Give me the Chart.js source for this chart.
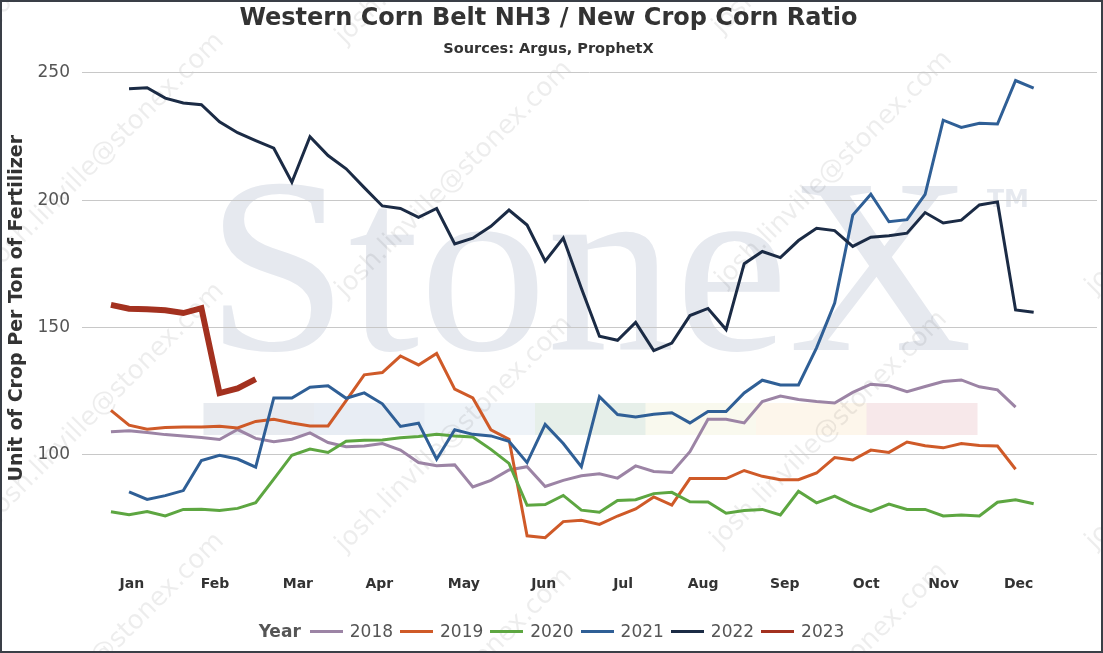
<!DOCTYPE html>
<html>
<head>
<title>Western Corn Belt NH3 / New Crop Corn Ratio</title>
<script src="https://cdn.jsdelivr.net/npm/chart.js@4.4.1/dist/chart.umd.min.js"></script>
<style>
	html, body { margin: 0; padding: 0; background: #fff; }
	#wrap { position: relative; width: 1103px; height: 653px; }
	#frame { position: absolute; left: 0; top: 0; width: 1103px; height: 653px; box-sizing: border-box; border: 2px solid #3a3f47; pointer-events: none; }
	#legend { position: absolute; left: 0; top: 621px; width: 1103px; text-align: center; white-space: nowrap;
		font: 17px 'DejaVu Sans', Verdana, sans-serif; line-height: 20px; color: #555; }
	#legend b { font-weight: bold; margin-right: 2px; }
	#legend .sw { display: inline-block; width: 33px; height: 3px; vertical-align: middle; margin: 0 7px 2px 7px; }
</style>
</head>
<body>
<div id="wrap">
	<canvas id="myChart"></canvas>
	<div id="legend"></div>
	<div id="frame"></div>
</div>
<script>
// x is counted in weeks; month labels sit at these week positions
var monthLabels = ['Jan', 'Feb', 'Mar', 'Apr', 'May', 'Jun', 'Jul', 'Aug', 'Sep', 'Oct', 'Nov', 'Dec'];
var monthWeeks = [1.16, 5.75, 10.33, 14.83, 19.5, 23.92, 28.31, 32.73, 37.24, 41.75, 46.02, 50.17];
var yTicks = [100, 150, 200, 250];

var years = ['2018', '2019', '2020', '2021', '2022', '2023'];
var firstWeek = [0, 0, 0, 1, 1, 0];

var ratio2018 = [108.9, 109.3, 108.6, 107.8, 107.3, 106.7, 105.9, 109.8, 106.3, 105.0,
	106.0, 108.5, 104.7, 103.0, 103.3, 104.3, 101.7, 96.8, 95.6, 95.9,
	87.2, 89.8, 93.9, 95.2, 87.4, 89.8, 91.6, 92.4, 90.7, 95.5,
	93.3, 92.9, 101.1, 113.8, 113.8, 112.4, 120.8, 123.0, 121.6, 120.8,
	120.2, 124.4, 127.6, 127.0, 124.7, 126.7, 128.7, 129.3, 126.6, 125.4, 118.6];
var ratio2019 = [117.3, 111.5, 109.9, 110.6, 110.8, 110.8, 111.1, 110.4, 113.0, 113.8,
	112.4, 111.2, 111.2, 121.2, 131.3, 132.2, 138.7, 135.2, 139.7, 125.7,
	122.2, 109.7, 106.0, 68.0, 67.3, 73.6, 74.1, 72.5, 75.8, 78.6,
	83.3, 80.1, 90.5, 90.5, 90.5, 93.7, 91.4, 90.1, 90.1, 92.7,
	98.8, 97.8, 101.7, 100.8, 104.9, 103.4, 102.6, 104.3, 103.5, 103.3, 94.2];
var ratio2020 = [77.5, 76.3, 77.6, 75.8, 78.4, 78.5, 78.0, 78.8, 81.0, 90.3,
	99.7, 102.1, 100.8, 105.2, 105.6, 105.7, 106.6, 107.1, 107.9, 107.3,
	106.9, 102.0, 96.5, 80.0, 80.3, 83.9, 78.1, 77.3, 81.9, 82.2,
	84.6, 85.1, 81.4, 81.3, 76.9, 78.0, 78.4, 76.2, 85.5, 81.0,
	83.6, 80.2, 77.6, 80.5, 78.4, 78.4, 75.8, 76.2, 75.8, 81.2, 82.2, 80.6];
var ratio2021 = [85.3, 82.3, 83.8, 85.8, 97.6, 99.7, 98.2, 95.0, 122.2, 122.2,
	126.4, 127.0, 122.1, 124.2, 119.9, 111.0, 112.3, 98.1, 109.7, 107.9,
	107.3, 105.2, 96.8, 111.8, 104.3, 95.2, 122.7, 115.7, 114.7, 115.8,
	116.4, 112.4, 116.9, 116.9, 124.2, 129.2, 127.3, 127.3, 141.9, 159.5,
	194.1, 202.3, 191.5, 192.3, 202.3, 231.4, 228.6, 230.2, 229.9, 247.0, 244.0];
var ratio2022 = [243.8, 244.2, 240.1, 238.2, 237.5, 230.8, 226.5, 223.4, 220.4, 207.0,
	224.9, 217.5, 212.3, 204.9, 197.7, 196.7, 193.2, 196.7, 182.8, 185.0,
	189.7, 196.1, 190.2, 176.0, 185.1, 165.3, 146.5, 144.9, 151.9, 140.8,
	143.8, 154.6, 157.4, 149.1, 175.0, 179.8, 177.4, 184.1, 188.9, 188.0,
	181.8, 185.4, 186.0, 187.0, 195.1, 191.0, 192.1, 198.1, 199.3, 156.8, 155.9];
var ratio2023 = [158.8, 157.3, 157.1, 156.7, 155.6, 157.5, 124.1, 126.0, 129.6];

var allRatios = [ratio2018, ratio2019, ratio2020, ratio2021, ratio2022, ratio2023];
var colors = ['#9c84a5', '#cf5a28', '#5da641', '#2f5f96', '#1b2b45', '#a3311f'];
var widths = [3, 3, 3, 3, 3, 6];

Chart.defaults.font.family = "'DejaVu Sans', Verdana, sans-serif";

var datasets = [];
for (var i = 0; i < years.length; i++) {
	var pts = allRatios[i].map(function (v, j) { return { x: firstWeek[i] + j, y: v }; });
	datasets.push({
		label: years[i],
		data: pts,
		borderColor: colors[i],
		backgroundColor: colors[i],
		borderWidth: widths[i],
		pointRadius: 0,
		tension: 0,
		order: years.length - i
	});
}

// faint StoneX logo and e-mail stamps behind the plot
var watermark = {
	id: 'watermark',
	beforeDraw: function (chart) {
		var ctx = chart.ctx;
		ctx.save();
		ctx.fillStyle = '#fff';
		ctx.fillRect(0, 0, chart.width, chart.height);
		var stripe = ['#e8ebf0', '#e8edf4', '#eef3f8', '#e6efe9', '#f9f9ee', '#fdf6eb', '#f7e8ea'];
		for (var s = 0; s < stripe.length; s++) {
			ctx.fillStyle = stripe[s];
			ctx.fillRect(203.5 + s * 110.5, 403, 111, 32);
		}
		ctx.fillStyle = '#e6e9ef';
		ctx.font = "250px 'Liberation Serif', 'DejaVu Serif', serif";
		ctx.textBaseline = 'alphabetic';
		ctx.textAlign = 'left';
		var w = ctx.measureText('StoneX').width;
		ctx.save();
		ctx.translate(206, 350);
		ctx.scale(767 / w, 1);
		ctx.fillText('StoneX', 0, 0);
		ctx.restore();
		ctx.font = "bold 25px 'DejaVu Sans', sans-serif";
		ctx.fillText('TM', 987, 207);
		ctx.fillStyle = 'rgba(0,0,0,0.07)';
		ctx.font = "26px 'DejaVu Sans', sans-serif";
		var stamps = [[-3, 20], [-3, 270], [-3, 520], [-3, 770], [345, 45], [345, 298], [345, 553], [345, 805],
			[722, 35], [725, 288], [720, 548], [720, 800], [1095, 295], [1095, 550]];
		stamps.forEach(function (p) {
			ctx.save();
			ctx.translate(p[0], p[1]);
			ctx.rotate(-Math.PI / 4);
			ctx.fillText('josh.linville@stonex.com', 0, 0);
			ctx.restore();
		});
		ctx.restore();
	}
};

var ctx = document.getElementById('myChart').getContext('2d');
var myChart = new Chart(ctx, {
	type: 'line',
	data: { datasets: datasets },
	plugins: [watermark],
	options: {
		responsive: true,
		maintainAspectRatio: false,
		animation: false,
		layout: { padding: { top: 0, left: 0, right: 6, bottom: 40 } },
		plugins: {
			legend: { display: false },
			tooltip: { enabled: false },
			title: {
				display: true,
				text: 'Western Corn Belt NH3 / New Crop Corn Ratio',
				color: '#333',
				font: { size: 24, weight: 'bold' },
				padding: { top: 4, bottom: 0 }
			},
			subtitle: {
				display: true,
				text: 'Sources: Argus, ProphetX',
				color: '#333',
				font: { size: 14.5, weight: 'bold' },
				padding: { top: 8, bottom: 2 }
			}
		},
		scales: {
			x: {
				type: 'linear',
				min: -1.6,
				max: 54.5,
				grid: { display: false, drawTicks: false, tickLength: 0 },
				border: { display: false },
				afterBuildTicks: function (scale) {
					scale.ticks = monthWeeks.map(function (w) { return { value: w }; });
				},
				ticks: {
					autoSkip: false,
					maxRotation: 0,
					padding: 20,
					color: '#333',
					font: { size: 14, weight: 'bold' },
					callback: function (v, i) { return monthLabels[i]; }
				}
			},
			y: {
				min: 60,
				max: 255,
				grid: { color: '#c8c8c8', lineWidth: 1, drawTicks: false },
				border: { display: false },
				afterBuildTicks: function (scale) {
					scale.ticks = yTicks.map(function (v) { return { value: v }; });
				},
				afterFit: function (scale) { scale.width = 82; },
				ticks: { padding: 12, color: '#555', font: { size: 17 } },
				title: {
					display: true,
					text: 'Unit of Crop Per Ton of Fertilizer',
					color: '#333',
					font: { size: 19, weight: 'bold' },
					padding: { top: 6, bottom: 0 }
				}
			}
		}
	}
});

// legend row with the "Year" heading in front, as in the original
var html = '<b>Year</b>';
for (var k = 0; k < years.length; k++) {
	html += '<span class="sw" style="background:' + colors[k] + '"></span>' + years[k];
}
document.getElementById('legend').innerHTML = html;
</script>
</body>
</html>
